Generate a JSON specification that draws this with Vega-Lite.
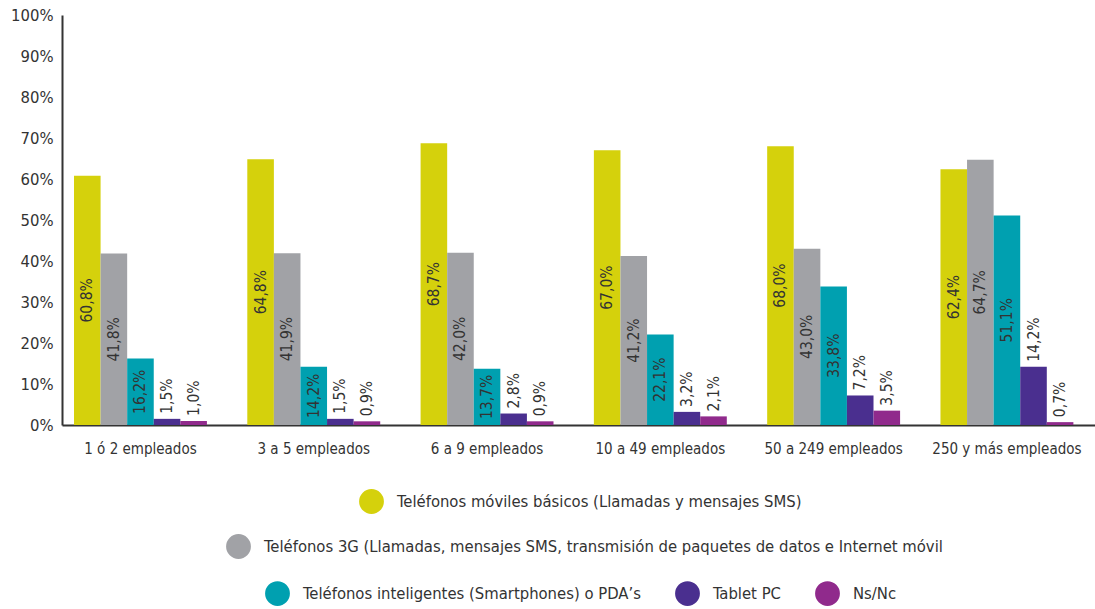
{
  "$schema": "https://vega.github.io/schema/vega-lite/v6.json",
  "autosize": {"type": "none"},
  "padding": {"left": 62, "top": 15, "right": 0, "bottom": 184},
  "width": 1033,
  "height": 410,
  "background": "#ffffff",
  "data": {
    "values": [
      {"g": "1 ó 2 empleados", "s": "Teléfonos móviles básicos (Llamadas y mensajes SMS)", "v": 60.8},
      {"g": "1 ó 2 empleados", "s": "Teléfonos 3G (Llamadas, mensajes SMS, transmisión de paquetes de datos e Internet móvil", "v": 41.8},
      {"g": "1 ó 2 empleados", "s": "Teléfonos inteligentes (Smartphones) o PDA’s", "v": 16.2},
      {"g": "1 ó 2 empleados", "s": "Tablet PC", "v": 1.5},
      {"g": "1 ó 2 empleados", "s": "Ns/Nc", "v": 1.0},
      {"g": "3 a 5 empleados", "s": "Teléfonos móviles básicos (Llamadas y mensajes SMS)", "v": 64.8},
      {"g": "3 a 5 empleados", "s": "Teléfonos 3G (Llamadas, mensajes SMS, transmisión de paquetes de datos e Internet móvil", "v": 41.9},
      {"g": "3 a 5 empleados", "s": "Teléfonos inteligentes (Smartphones) o PDA’s", "v": 14.2},
      {"g": "3 a 5 empleados", "s": "Tablet PC", "v": 1.5},
      {"g": "3 a 5 empleados", "s": "Ns/Nc", "v": 0.9},
      {"g": "6 a 9 empleados", "s": "Teléfonos móviles básicos (Llamadas y mensajes SMS)", "v": 68.7},
      {"g": "6 a 9 empleados", "s": "Teléfonos 3G (Llamadas, mensajes SMS, transmisión de paquetes de datos e Internet móvil", "v": 42.0},
      {"g": "6 a 9 empleados", "s": "Teléfonos inteligentes (Smartphones) o PDA’s", "v": 13.7},
      {"g": "6 a 9 empleados", "s": "Tablet PC", "v": 2.8},
      {"g": "6 a 9 empleados", "s": "Ns/Nc", "v": 0.9},
      {"g": "10 a 49 empleados", "s": "Teléfonos móviles básicos (Llamadas y mensajes SMS)", "v": 67.0},
      {"g": "10 a 49 empleados", "s": "Teléfonos 3G (Llamadas, mensajes SMS, transmisión de paquetes de datos e Internet móvil", "v": 41.2},
      {"g": "10 a 49 empleados", "s": "Teléfonos inteligentes (Smartphones) o PDA’s", "v": 22.1},
      {"g": "10 a 49 empleados", "s": "Tablet PC", "v": 3.2},
      {"g": "10 a 49 empleados", "s": "Ns/Nc", "v": 2.1},
      {"g": "50 a 249 empleados", "s": "Teléfonos móviles básicos (Llamadas y mensajes SMS)", "v": 68.0},
      {"g": "50 a 249 empleados", "s": "Teléfonos 3G (Llamadas, mensajes SMS, transmisión de paquetes de datos e Internet móvil", "v": 43.0},
      {"g": "50 a 249 empleados", "s": "Teléfonos inteligentes (Smartphones) o PDA’s", "v": 33.8},
      {"g": "50 a 249 empleados", "s": "Tablet PC", "v": 7.2},
      {"g": "50 a 249 empleados", "s": "Ns/Nc", "v": 3.5},
      {"g": "250 y más empleados", "s": "Teléfonos móviles básicos (Llamadas y mensajes SMS)", "v": 62.4},
      {"g": "250 y más empleados", "s": "Teléfonos 3G (Llamadas, mensajes SMS, transmisión de paquetes de datos e Internet móvil", "v": 64.7},
      {"g": "250 y más empleados", "s": "Teléfonos inteligentes (Smartphones) o PDA’s", "v": 51.1},
      {"g": "250 y más empleados", "s": "Tablet PC", "v": 14.2},
      {"g": "250 y más empleados", "s": "Ns/Nc", "v": 0.7}
    ]
  },
  "encoding": {
    "x": {
      "field": "g", "type": "nominal", "sort": null, "title": null,
      "scale": {"paddingInner": 0.233, "paddingOuter": 0.097, "align": 0.357},
      "axis": {"labelAngle": 0, "ticks": false, "labelPadding": 16, "labelFontSize": 15, "labelColor": "#333333", "domainColor": "#333333", "domainWidth": 2}
    },
    "xOffset": {
      "field": "s", "type": "nominal",
      "scale": {"domain": [
        "Teléfonos móviles básicos (Llamadas y mensajes SMS)",
        "Teléfonos 3G (Llamadas, mensajes SMS, transmisión de paquetes de datos e Internet móvil",
        "Teléfonos inteligentes (Smartphones) o PDA’s",
        "Tablet PC",
        "Ns/Nc"
      ], "paddingInner": 0, "paddingOuter": 0}
    }
  },
  "layer": [
    {
      "transform": [{"filter": {"field": "s", "equal": "Teléfonos móviles básicos (Llamadas y mensajes SMS)"}}],
      "mark": {"type": "bar"},
      "encoding": {
        "y": {"field": "v", "type": "quantitative", "title": null,
          "scale": {"domain": [0, 100], "nice": false},
          "axis": {"values": [0,10,20,30,40,50,60,70,80,90,100], "labelExpr": "datum.value + '%'", "ticks": false, "grid": false, "labelPadding": 9, "labelFontSize": 16.5, "labelColor": "#333333", "domainColor": "#333333", "domainWidth": 2}},
        "color": {"field": "s", "type": "nominal",
          "scale": {"domain": ["Teléfonos móviles básicos (Llamadas y mensajes SMS)"], "range": ["#d5d10c"]},
          "legend": {"title": null, "legendX": 297, "legendY": 474}}
      }
    },
    {
      "transform": [{"filter": {"field": "s", "equal": "Teléfonos 3G (Llamadas, mensajes SMS, transmisión de paquetes de datos e Internet móvil"}}],
      "mark": {"type": "bar"},
      "encoding": {
        "y": {"field": "v", "type": "quantitative"},
        "color": {"field": "s", "type": "nominal",
          "scale": {"domain": ["Teléfonos 3G (Llamadas, mensajes SMS, transmisión de paquetes de datos e Internet móvil"], "range": ["#a1a2a6"]},
          "legend": {"title": null, "legendX": 164, "legendY": 519}}
      }
    },
    {
      "transform": [{"filter": {"field": "s", "oneOf": ["Teléfonos inteligentes (Smartphones) o PDA’s", "Tablet PC", "Ns/Nc"]}}],
      "mark": {"type": "bar"},
      "encoding": {
        "y": {"field": "v", "type": "quantitative"},
        "color": {"field": "s", "type": "nominal",
          "scale": {"domain": ["Teléfonos inteligentes (Smartphones) o PDA’s", "Tablet PC", "Ns/Nc"], "range": ["#00a0b0", "#4a2f8f", "#902a8c"]},
          "legend": {"title": null, "legendX": 203, "legendY": 566}}
      }
    },
    {
      "transform": [{"filter": {"field": "s", "oneOf": ["Teléfonos móviles básicos (Llamadas y mensajes SMS)", "Teléfonos 3G (Llamadas, mensajes SMS, transmisión de paquetes de datos e Internet móvil", "Teléfonos inteligentes (Smartphones) o PDA’s"]}}],
      "mark": {"type": "text", "angle": 270, "align": "center", "baseline": "middle", "fontSize": 15.5, "color": "#333333",
        "font": "Liberation Sans Narrow, DejaVu Sans Condensed, Roboto Condensed, Liberation Sans",
        "y": {"expr": "scale('y', datum.v / 2)"},
        "text": {"expr": "replace(format(datum.v, '.1f'), '.', ',') + '%'"}},
      "encoding": {}
    },
    {
      "transform": [{"filter": {"field": "s", "oneOf": ["Tablet PC", "Ns/Nc"]}}],
      "mark": {"type": "text", "angle": 270, "align": "left", "baseline": "middle", "dx": 5, "fontSize": 15.5, "color": "#333333",
        "font": "Liberation Sans Narrow, DejaVu Sans Condensed, Roboto Condensed, Liberation Sans",
        "text": {"expr": "replace(format(datum.v, '.1f'), '.', ',') + '%'"}},
      "encoding": {
        "y": {"field": "v", "type": "quantitative"}
      }
    }
  ],
  "resolve": {"scale": {"color": "independent"}, "legend": {"color": "independent"}},
  "config": {
    "font": "Liberation Sans Narrow, DejaVu Sans Condensed, Roboto Condensed, Liberation Sans",
    "view": {"stroke": null},
    "axis": {"labelFont": "Liberation Sans Narrow, DejaVu Sans Condensed, Roboto Condensed, Liberation Sans"},
    "legend": {
      "orient": "none",
      "direction": "horizontal",
      "symbolType": "circle",
      "symbolSize": 616,
      "symbolStrokeWidth": 0,
      "symbolOpacity": 1,
      "labelFont": "Liberation Sans Narrow, DejaVu Sans Condensed, Roboto Condensed, Liberation Sans",
      "labelFontSize": 16.5,
      "labelColor": "#333333",
      "labelOffset": 13,
      "labelLimit": 0,
      "columnPadding": 34,
      "padding": 0
    }
  }
}
